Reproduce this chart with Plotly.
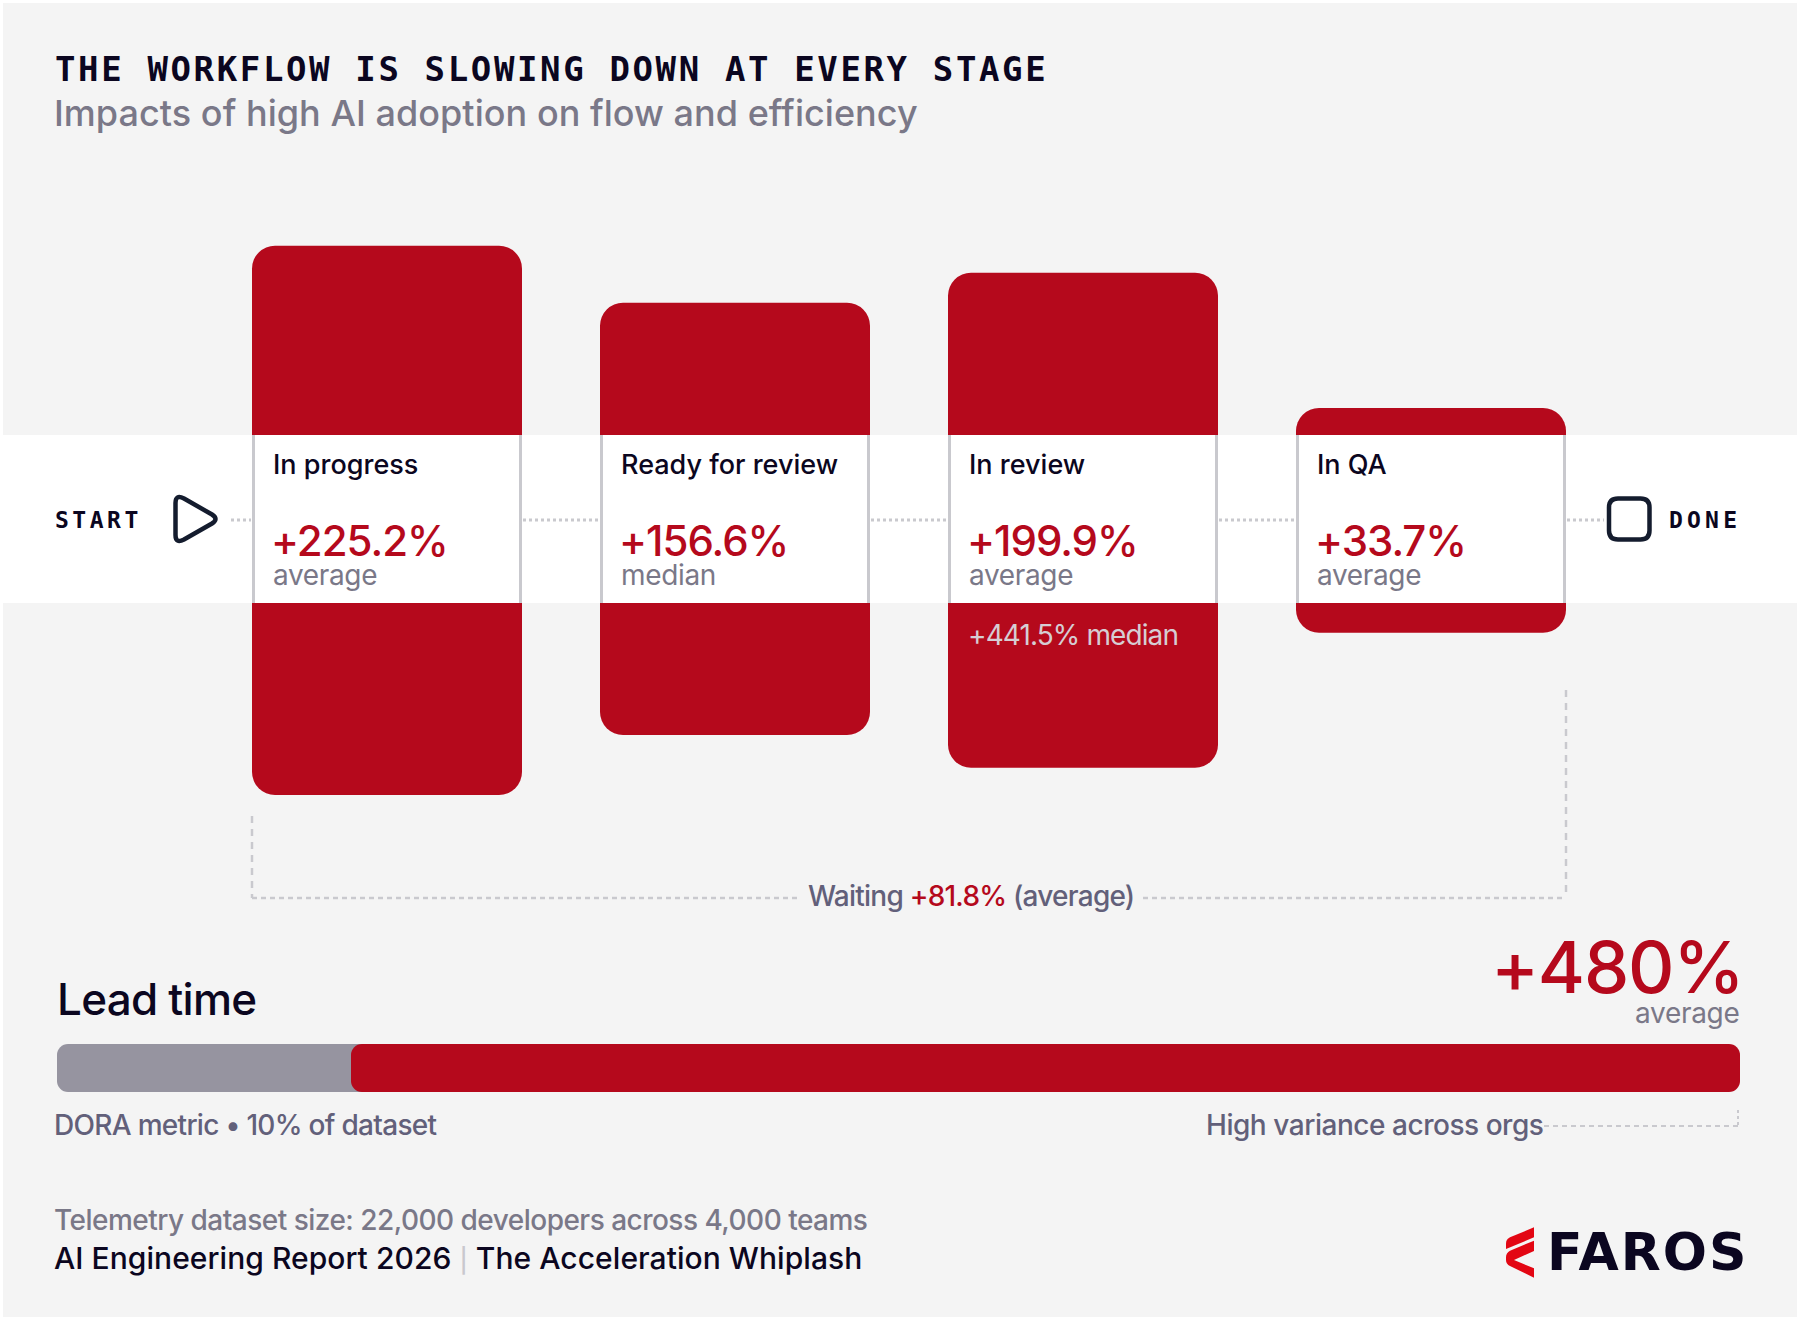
import plotly.graph_objects as go

# ---------- data ----------
stages = ["In progress", "Ready for review", "In review", "In QA"]
stage_labels = ["+225.2%", "+156.6%", "+199.9%", "+33.7%"]
stage_stats = ["average", "median", "average", "average"]
# bar reach beyond the white band, above and below it
bar_above = [223.5, 156.2, 191.6, 31.9]
bar_below = [226.7, 155.8, 194.4, 35.1]
band_units = [99.2]                        # part of each bar hidden behind the white band
lead_values = [101.6, 480]                 # baseline, increase

W, H = 1800, 1320
RED = "#b5091c"
INK = "#0b0620"
GREY = "#7a7888"
SLATE = "#62607a"
LINE = "#c9c9ce"
ICON = "#141c2e"
INTER = "Inter"
MONO = "DejaVu Sans Mono"

def X(p): return p / W
def Y(p): return 1 - p / H

fig = go.Figure()
x_pos = list(range(len(stages)))
fig.add_trace(go.Bar(x=x_pos, y=[v + band_units[0] for v in bar_above], base=0, width=270 / 348,
                     marker=dict(color=RED, cornerradius=23, line_width=0),
                     name="above", showlegend=False, hoverinfo="skip", xaxis="x", yaxis="y"))
fig.add_trace(go.Bar(x=x_pos, y=[-(v + band_units[0]) for v in bar_below], base=0, width=270 / 348,
                     marker=dict(color=RED, cornerradius=23, line_width=0),
                     name="below", showlegend=False, hoverinfo="skip", xaxis="x", yaxis="y"))

fig.add_trace(go.Bar(y=[0], x=[lead_values[0] + 8], base=0, width=1, orientation="h",
                     marker=dict(color="#9694a0", cornerradius=11, line_width=0), showlegend=False,
                     hoverinfo="skip", xaxis="x2", yaxis="y2"))
fig.add_trace(go.Bar(y=[0], x=[lead_values[1]], base=lead_values[0], width=1, orientation="h",
                     marker=dict(color=RED, cornerradius=11, line_width=0), showlegend=False,
                     hoverinfo="skip", xaxis="x2", yaxis="y2"))

shapes = []
def rect(x0, y0, x1, y1, color, layer="above"):
    shapes.append(dict(type="rect", xref="paper", yref="paper", x0=X(x0), x1=X(x1), y0=Y(y0), y1=Y(y1),
                       fillcolor=color, line_width=0, layer=layer))
def seg(x0, y0, x1, y1, dash="3px,3px", width=3, color=LINE):
    shapes.append(dict(type="line", xref="paper", yref="paper", x0=X(x0), x1=X(x1), y0=Y(y0), y1=Y(y1),
                       line=dict(color=color, width=width, dash=dash), layer="above"))
def path(cmds, fill=None, color=None, width=0):
    out = []
    for c in cmds:
        if isinstance(c, str):
            out.append(c)
        else:
            out.append(f"{X(c[0]):.6f},{Y(c[1]):.6f}")
    d = dict(type="path", xref="paper", yref="paper", path=" ".join(out), layer="above")
    d["line"] = dict(color=color, width=width) if color else dict(width=0)
    if fill:
        d["fillcolor"] = fill
    shapes.append(d)

# card and band
rect(3, 3, 1797, 1317, "#f4f4f4", "below")
rect(3, 435, 1797, 603, "#ffffff")

# white panel edges
half = 133.5 / 348
for i in x_pos:
    for s in (-1, 1):
        shapes.append(dict(type="line", xref="x", yref="paper", x0=i + s * half, x1=i + s * half, y0=Y(435), y1=Y(603),
                           line=dict(color=LINE, width=3), layer="above"))

# connectors
for a, b in [(231, 251), (523, 600), (871, 948), (1219, 1296), (1567, 1604)]:
    seg(a, 520, b, 520)

# start and done icons
path(["M", (175.5, 503), "Q", (175.5, 494), (184, 498.5), "L", (212, 514.5), "Q", (219, 519), (212, 523.5),
      "L", (184, 539.5), "Q", (175.5, 544), (175.5, 535), "Z"], color=ICON, width=4.5)
path(["M", (1618, 498.5), "L", (1640.5, 498.5), "Q", (1649.5, 498.5), (1649.5, 507.5), "L", (1649.5, 530.5), "Q", (1649.5, 539.5), (1640.5, 539.5),
      "L", (1618, 539.5), "Q", (1609, 539.5), (1609, 530.5), "L", (1609, 507.5), "Q", (1609, 498.5), (1618, 498.5), "Z"],
     color=ICON, width=4.5)

# waiting bracket
seg(252, 816, 252, 898, "7px,6px", 2.5)
seg(252, 898, 798, 898, "5px,4px", 2.5)
seg(1143, 898, 1566, 898, "5px,4px", 2.5)
seg(1566, 690, 1566, 898, "7px,6px", 2.5)

# lead-time callout
seg(1544, 1126, 1738, 1126, "5px,4px", 2)
seg(1738, 1110, 1738, 1126, "3px,3px", 2)

# logo mark
def L(x, y): return (x / 3 + 1400, y / 3 + 1180)
path(["M", L(402, 142), "L", L(330, 172), "Q", L(318, 178), L(318, 190), "L", L(318, 207), "L", L(402, 172), "Z"], fill="#e30613")
path(["M", L(402, 182), "L", L(330, 212), "Q", L(318, 218), L(318, 232), "L", L(318, 240), "Q", L(318, 252), L(330, 258),
      "L", L(402, 293), "L", L(402, 265), "L", L(342, 240), "L", L(402, 213), "Z"], fill="#e30613")

ASC = {INTER: 0.969, MONO: 0.928, "DejaVu Sans": 0.928}
ann = []
def text(x, base, s, size, color, family=INTER, weight=400, anchor="left", ls=0):
    if ls:
        s = f'<span style="letter-spacing:{ls}px">{s}</span>'
    ann.append(dict(xref="paper", yref="paper", x=X(x), y=Y(base - ASC[family] * size), text=s, showarrow=False,
                    xanchor=anchor, yanchor="top", align=anchor, borderpad=0, borderwidth=0,
                    font=dict(family=family, size=size, color=color, weight=weight)))

text(55, 81, "THE WORKFLOW IS SLOWING DOWN AT EVERY STAGE", 34, INK, MONO, 700, ls=2.63)
text(54, 126, "Impacts of high AI adoption on flow and efficiency", 36, GREY, weight=500, ls=0.04)
text(55, 528, "START", 23, INK, MONO, 700, ls=3.5)
text(1669, 528, "DONE", 23, INK, MONO, 700, ls=4.2)

lefts = [273, 621, 969, 1317]
for i, x0 in enumerate(lefts):
    text(x0, 474, stages[i], 27, INK, weight=500)
    text(x0 - 2, 555.5, stage_labels[i], 42, RED, weight=500, ls=-1)
    text(x0, 585, stage_stats[i], 28, GREY, ls=-0.35)
text(968, 645, "+441.5% median", 28, "#d6cdd3", ls=-0.9)

text(807.5, 906, f'Waiting <span style="color:{RED}">+81.8%</span> (average)', 28, SLATE, weight=500, ls=-0.76)
text(57, 1015, "Lead time", 44, INK, weight=500, ls=-0.75)
text(1744, 993, "+480%", 72, RED, weight=500, anchor="right", ls=-1.2)
text(1740, 1023, "average", 28, GREY, anchor="right", ls=-0.3)
text(54, 1135, "DORA metric • 10% of dataset", 28, SLATE, weight=500, ls=-0.7)
text(1206, 1135, "High variance across orgs", 28, SLATE, weight=500, ls=-0.46)
text(54, 1230, "Telemetry dataset size: 22,000 developers across 4,000 teams", 28, GREY, weight=500, ls=-0.52)
text(54, 1269, f'AI Engineering Report 2026 <span style="color:#c9c8ce;font-size:24px">|</span> The Acceleration Whiplash', 30, INK, weight=500, ls=0.05)
text(1547, 1270, "FAROS", 52, INK, "DejaVu Sans", 700, ls=2)

hidden = dict(visible=False, fixedrange=True)
fig.update_layout(
    width=W, height=H, margin=dict(l=0, r=0, t=0, b=0), paper_bgcolor="#ffffff", plot_bgcolor="rgba(0,0,0,0)",
    barmode="overlay", showlegend=False, shapes=shapes, annotations=ann,
    xaxis=dict(domain=[X(213), X(1605)], range=[-0.5, 3.5], **hidden),
    yaxis=dict(domain=[Y(857.8), Y(180.2)], range=[-400, 400], **hidden),
    xaxis2=dict(domain=[X(57), X(1740)], range=[0, sum(lead_values)], anchor="y2", **hidden),
    yaxis2=dict(domain=[Y(1092), Y(1044)], range=[-0.5, 0.5], anchor="x2", **hidden),
)
fig.write_html("out.html", config=dict(displayModeBar=False), post_script="document.body.style.margin='0';")
